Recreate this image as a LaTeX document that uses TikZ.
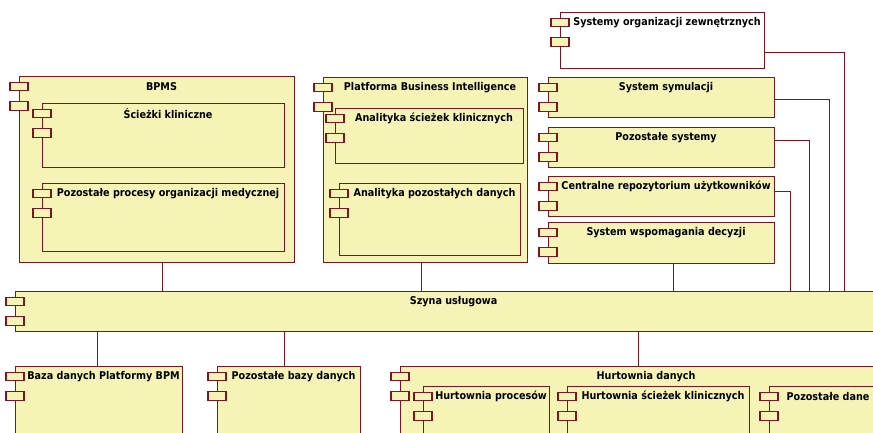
\documentclass[tikz,border=0pt]{standalone}
\usepackage{fontspec}
\setmainfont{DejaVu Sans Condensed}
\definecolor{compfill}{RGB}{245,243,182}
\definecolor{compline}{RGB}{128,20,32}
\usetikzlibrary{positioning}

\begin{document}
\begin{tikzpicture}[x=1pt, y=-1pt, font=\fontsize{10.7}{12}\selectfont\bfseries,
  comp/.style={draw=compline, fill=compfill, line width=1.1pt, inner sep=0pt, anchor=north west},
  tab/.style={draw=compline, fill=compfill, line width=1.1pt, inner sep=0pt, minimum width=18pt, minimum height=8.5pt},
  wire/.style={draw=compline, line width=1.1pt}]
\clip (0,0) rectangle (873,433);
\fill[white] (0,0) rectangle (873,433);

% BPMS
\node[comp, minimum width=275pt, minimum height=186pt] (bpms) at (19,76) {};
\node[comp, minimum width=242pt, minimum height=64pt] (sciezki) at (42,103) {};
\node[comp, minimum width=242pt, minimum height=68pt] (procesy) at (42,183) {};

% Business Intelligence
\node[comp, minimum width=204pt, minimum height=185pt] (bi) at (323,77) {};
\node[comp, minimum width=188pt, minimum height=55pt] (anSciezki) at (335,108) {};
\node[comp, minimum width=181pt, minimum height=72pt] (anDane) at (339,183) {};

% right column
\node[comp, fill=white, minimum width=204pt, minimum height=56pt] (org) at (560,12) {};
\node[comp, minimum width=226pt, minimum height=40pt] (symul) at (548,77) {};
\node[comp, minimum width=226pt, minimum height=40pt] (pozSys) at (548,127) {};
\node[comp, minimum width=226pt, minimum height=40pt] (repo) at (548,176) {};
\node[comp, minimum width=226pt, minimum height=41pt] (decyzje) at (548,222) {};

% bus
\node[comp, minimum width=867pt, minimum height=40pt] (bus) at (15,291) {};

% data
\node[comp, minimum width=167pt, minimum height=80pt] (baza) at (15,366) {};
\node[comp, minimum width=143pt, minimum height=80pt] (bazy) at (217,366) {};
\node[comp, minimum width=482pt, minimum height=80pt] (hurt) at (400,366) {};
\node[comp, minimum width=126pt, minimum height=60pt] (hProc) at (423,386) {};
\node[comp, minimum width=182pt, minimum height=60pt] (hSciezki) at (567,386) {};
\node[comp, minimum width=108pt, minimum height=60pt] (hDane) at (769,386) {};

% tabs
\foreach \c in {bpms,sciezki,procesy,bi,anSciezki,anDane,org,symul,pozSys,repo,decyzje,bus,baza,bazy,hurt,hProc,hSciezki,hDane}{
  \node[tab] (\c-t1) at ([yshift=-10.5pt]\c.north west) {};
  \node[tab] (\c-t2) at ([yshift=-30pt]\c.north west) {};
}

% titles
\foreach \c/\t in {bpms/BPMS, sciezki/Ścieżki kliniczne, procesy/Pozostałe procesy organizacji medycznej,
  bi/Platforma Business Intelligence, anSciezki/Analityka ścieżek klinicznych, anDane/Analityka pozostałych danych,
  org/Systemy organizacji zewnętrznych, symul/System symulacji, pozSys/Pozostałe systemy,
  repo/Centralne repozytorium użytkowników, decyzje/System wspomagania decyzji, bus/Szyna usługowa,
  baza/Baza danych Platformy BPM, bazy/Pozostałe bazy danych, hurt/Hurtownia danych,
  hProc/Hurtownia procesów, hSciezki/Hurtownia ścieżek klinicznych, hDane/Pozostałe dane}
  \node[inner sep=0pt] (\c-title) at ([xshift=4.5pt,yshift=-10.5pt]\c.north) {\t};

% connectors
\draw[wire] ([xshift=5.5pt]bpms.south) -- ([xshift=5.5pt]bpms.south |- bus.north);
\draw[wire] ([xshift=-4pt]bi.south) -- ([xshift=-4pt]bi.south |- bus.north);
\draw[wire] ([xshift=12pt]decyzje.south) -- ([xshift=12pt]decyzje.south |- bus.north);
\draw[wire] ([yshift=-12pt]org.east) -| ([xshift=-39pt]bus.north east);
\draw[wire] ([yshift=-2pt]symul.east) -| ([xshift=-54pt]bus.north east);
\draw[wire] ([yshift=7pt]pozSys.east) -| ([xshift=-74pt]bus.north east);
\draw[wire] ([yshift=5pt]repo.east) -| ([xshift=-93pt]bus.north east);
\draw[wire] ([xshift=-1.5pt]bus.south -| baza.north) -- ([xshift=-1.5pt]baza.north);
\draw[wire] ([xshift=-4.5pt]bus.south -| bazy.north) -- ([xshift=-4.5pt]bazy.north);
\draw[wire] ([xshift=-3pt]bus.south -| hurt.north) -- ([xshift=-3pt]hurt.north);
\end{tikzpicture}
\end{document}
